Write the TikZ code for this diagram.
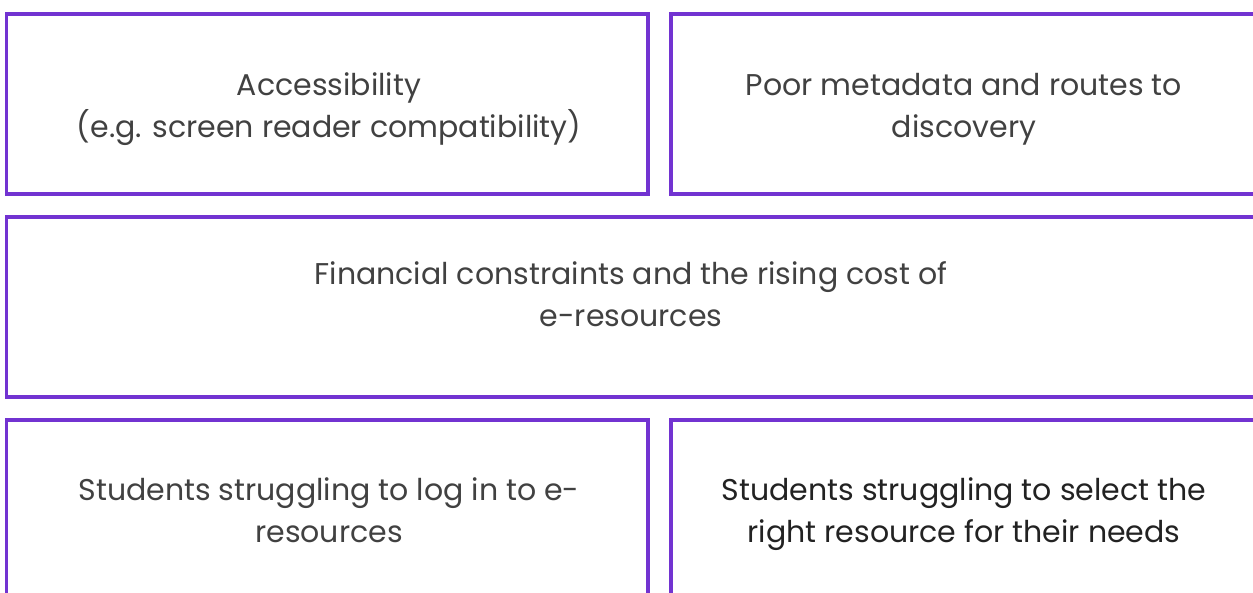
\documentclass[tikz,border=0pt]{standalone}
\usepackage{fontspec}
\setmainfont{Poppins}
\definecolor{boxpurple}{HTML}{7233D1}
\definecolor{txtgray}{HTML}{414141}
\definecolor{txtdark}{HTML}{222222}
\begin{document}
\begin{tikzpicture}[x=1pt,y=-1pt,
  panel/.style={draw=boxpurple,line width=3.6pt},
  label/.style={align=center,text=txtgray,inner sep=0pt,
    font=\fontsize{30}{42}\selectfont}]
\useasboundingbox (0,0) rectangle (1253,592);
\clip (0,0) rectangle (1253,592);
% five bordered panels, the right-hand ones running past the edge
\draw[panel] (6.5,14) rectangle (648,194);
\draw[panel] (671,14) rectangle (1257,194);
\draw[panel] (6.5,217) rectangle (1257,397);
\draw[panel] (6.5,420) rectangle (648,600);
\draw[panel] (671,420) rectangle (1257,600);
% panel captions
\node[label] (access) at (329,109) {Accessibility\\(e.g. screen reader compatibility)};
\node[label] (meta) at (964,109) {Poor metadata and routes to\\discovery};
\node[label] (cost) at (631,294) {Financial constraints and the rising cost of\\e-resources};
\node[label] (login) at (329,510) {Students struggling to log in to e-\\resources};
\node[label,text=txtdark] (select) at (964,514) {Students struggling to select the\\right resource for their needs};
\end{tikzpicture}
\end{document}
